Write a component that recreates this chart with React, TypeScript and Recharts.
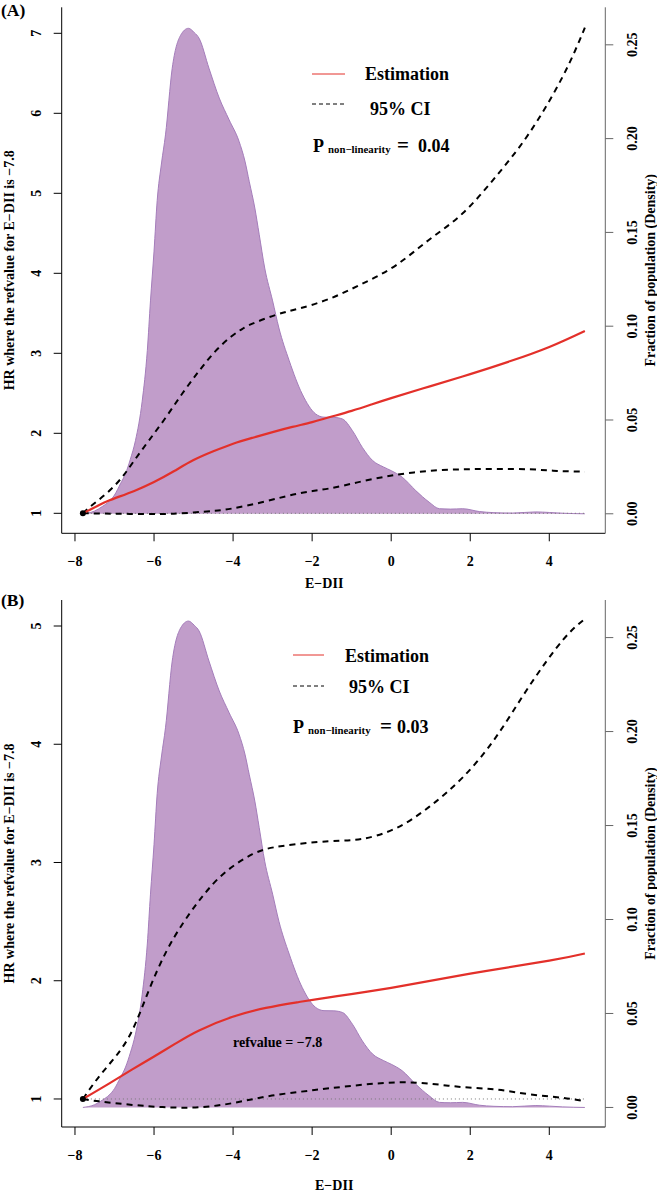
import React from "react";
import { ComposedChart, Line, Area, XAxis, YAxis, ReferenceDot } from "recharts";

const FONT = "'Liberation Serif', 'Times New Roman', Times, serif";

// ---- data (E-DII, value) ----
const xTicks = [-8, -6, -4, -2, 0, 2, 4];
const hrTicksA = [1, 2, 3, 4, 5, 6, 7];
const hrTicksB = [1, 2, 3, 4, 5];
const densityTicks = [0, 0.05, 0.1, 0.15, 0.2, 0.25];

const refPoint = { x: -7.8, y: 1 };
const baselineHR: [number, number][] = [[-7.8, 1], [4.9, 1]];

const density: [number, number][] = [
  [-7.8, 0], [-7.5, 0.0015], [-7.3, 0.004], [-7.14, 0.0065], [-7.0, 0.01], [-6.85, 0.016],
  [-6.72, 0.0215], [-6.6, 0.029], [-6.47, 0.039], [-6.3, 0.06], [-6.17, 0.087], [-6.09, 0.1135],
  [-6.0, 0.14], [-5.92, 0.167], [-5.81, 0.187], [-5.71, 0.202], [-5.54, 0.2375], [-5.33, 0.255],
  [-5.13, 0.2588], [-4.98, 0.2565], [-4.86, 0.2535], [-4.61, 0.2375], [-4.35, 0.2216], [-4.1, 0.21],
  [-3.85, 0.1986], [-3.7, 0.188], [-3.59, 0.177], [-3.45, 0.163], [-3.34, 0.149], [-3.2, 0.131],
  [-3.0, 0.1135], [-2.84, 0.099], [-2.58, 0.0816], [-2.25, 0.0638], [-1.91, 0.0532], [-1.7, 0.0515],
  [-1.45, 0.0514], [-1.23, 0.0505], [-0.98, 0.0443], [-0.73, 0.0354], [-0.47, 0.0284], [-0.2, 0.025],
  [0.0, 0.023], [0.28, 0.0195], [0.62, 0.0124], [0.96, 0.0062], [1.22, 0.0027], [1.5, 0.0025],
  [1.81, 0.0027], [2.23, 0.0012], [2.6, 0.0006], [3.07, 0.0004], [3.66, 0.001], [4.0, 0.0007],
  [4.34, 0.0003], [4.9, 0],
];

const estimationA: [number, number][] = [
  [-7.8, 1.0], [-7.4, 1.1], [-7.14, 1.16], [-6.5, 1.28], [-6.0, 1.39], [-5.5, 1.525], [-5.0, 1.665],
  [-4.5, 1.775], [-4.0, 1.87], [-3.5, 1.945], [-3.0, 2.015], [-2.5, 2.08], [-2.0, 2.14], [-1.57, 2.2],
  [-1.0, 2.28], [-0.5, 2.36], [0.0, 2.44], [1.0, 2.59], [2.0, 2.74], [3.0, 2.9], [4.0, 3.08], [4.9, 3.28],
];
const upperA: [number, number][] = [
  [-7.8, 1.0], [-7.62, 1.08], [-7.2, 1.25], [-6.81, 1.45], [-6.5, 1.66], [-6.13, 1.91], [-5.7, 2.2],
  [-5.28, 2.5], [-4.86, 2.78], [-4.44, 3.03], [-4.02, 3.22], [-3.75, 3.31], [-3.51, 3.37], [-2.92, 3.48],
  [-2.33, 3.56], [-1.57, 3.68], [-0.73, 3.87], [0.12, 4.1], [0.96, 4.42], [1.81, 4.75], [2.65, 5.21],
  [3.49, 5.75], [4.34, 6.46], [4.9, 7.07],
];
const lowerA: [number, number][] = [
  [-7.8, 1.0], [-7.0, 0.995], [-6.0, 0.99], [-5.5, 0.995], [-5.0, 1.01], [-4.5, 1.03], [-4.02, 1.06],
  [-3.17, 1.15], [-2.33, 1.25], [-1.57, 1.31], [-0.73, 1.4], [0.12, 1.48], [0.96, 1.53], [1.81, 1.55],
  [2.65, 1.555], [3.49, 1.55], [4.2, 1.53], [4.9, 1.52],
];

const estimationB: [number, number][] = [
  [-7.8, 1.0], [-7.14, 1.13], [-6.55, 1.25], [-6.02, 1.355], [-5.45, 1.47], [-4.86, 1.58], [-4.01, 1.695],
  [-3.17, 1.77], [-2.33, 1.82], [-1.57, 1.86], [0.0, 1.94], [2.0, 2.06], [4.0, 2.17], [4.9, 2.23],
];
const upperB: [number, number][] = [
  [-7.8, 1.0], [-7.39, 1.19], [-6.97, 1.36], [-6.55, 1.58], [-6.13, 1.92], [-5.7, 2.24], [-5.28, 2.48],
  [-4.9, 2.66], [-4.61, 2.78], [-4.19, 2.92], [-3.51, 3.07], [-2.75, 3.14], [-1.57, 3.18], [-0.73, 3.2],
  [0.12, 3.29], [0.96, 3.47], [1.81, 3.72], [2.65, 4.06], [3.49, 4.49], [4.34, 4.88], [4.9, 5.06],
];
const lowerB: [number, number][] = [
  [-7.8, 1.0], [-7.39, 0.98], [-6.55, 0.95], [-5.7, 0.93], [-4.86, 0.93], [-4.01, 0.965], [-3.17, 1.02],
  [-2.33, 1.06], [-1.57, 1.09], [-0.73, 1.12], [0.12, 1.14], [0.96, 1.13], [1.81, 1.1], [2.65, 1.08],
  [3.49, 1.04], [4.34, 1.01], [4.9, 0.98],
];

const rows = (pts: [number, number][]) => pts.map(([x, y]) => ({ x, y }));
const fmtX = (v: number) => (v < 0 ? "\u2212" + Math.abs(v) : String(v));

const X_DOMAIN: [number, number] = [-8.336, 5.417];
const DEN_DOMAIN: [number, number] = [-0.0104, 0.27];

const LeftTick = (props: any) => {
  const { x, y, payload } = props;
  return (
    <text x={x} y={y} transform={`rotate(-90 ${x} ${y})`} textAnchor="middle" fontFamily={FONT} fontWeight="bold" fontSize={14} fill="#000">
      {payload.value}
    </text>
  );
};
const RightTick = (props: any) => {
  const { x, y, payload } = props;
  return (
    <text x={x} y={y} transform={`rotate(-90 ${x} ${y})`} textAnchor="middle" fontFamily={FONT} fontWeight="bold" fontSize={14} fill="#000">
      {Number(payload.value).toFixed(2)}
    </text>
  );
};
const BottomTick = (props: any) => {
  const { x, y, payload } = props;
  return (
    <text x={x} y={y} dy="0.71em" textAnchor="middle" fontFamily={FONT} fontWeight="bold" fontSize={14} fill="#000">
      {fmtX(payload.value)}
    </text>
  );
};

type PanelProps = {
  tag: string;
  height: number;
  marginTop: number;
  marginBottom: number;
  hrDomain: [number, number];
  hrTicks: number[];
  est: [number, number][];
  upper: [number, number][];
  lower: [number, number][];
  pValue: string;
  layout: any;
  showRef?: boolean;
};

const txt = { fontFamily: FONT, fontWeight: "bold" as const, fill: "#000" };

function Panel(p: PanelProps) {
  const L = p.layout;
  const plotTop = p.marginTop;
  const plotBottom = p.height - p.marginBottom - 40;
  const midY = (plotTop + plotBottom) / 2;
  return (
    <div style={{ position: "relative", width: 657, height: p.height }}>
      <ComposedChart width={657} height={p.height} margin={{ top: p.marginTop, right: 11.7, bottom: p.marginBottom, left: 21.7 }}>
        <XAxis
          xAxisId="b"
          dataKey="x"
          type="number"
          domain={X_DOMAIN}
          ticks={xTicks}
          interval={0}
          allowDataOverflow
          height={40}
          tickSize={8}
          tickMargin={15}
          tick={<BottomTick />}
          axisLine={{ stroke: "#000" }}
          tickLine={{ stroke: "#000" }}
        />
        <XAxis xAxisId="t" orientation="top" type="number" dataKey="x" domain={X_DOMAIN} allowDataOverflow height={0} tick={false} tickLine={false} axisLine={{ stroke: "#000" }} />
        <YAxis
          yAxisId="hr"
          orientation="left"
          type="number"
          domain={p.hrDomain}
          ticks={p.hrTicks}
          interval={0}
          allowDataOverflow
          width={40}
          tickSize={8}
          tickMargin={13}
          tick={<LeftTick />}
          axisLine={{ stroke: "#000" }}
          tickLine={{ stroke: "#000" }}
        />
        <YAxis
          yAxisId="den"
          orientation="right"
          type="number"
          domain={DEN_DOMAIN}
          ticks={densityTicks}
          interval={0}
          allowDataOverflow
          width={40}
          tickSize={8}
          tickMargin={24}
          tick={<RightTick />}
          axisLine={{ stroke: "#666" }}
          tickLine={{ stroke: "#666" }}
        />
        <Area
          data={rows(density)}
          dataKey="y"
          xAxisId="b"
          yAxisId="den"
          type="monotone"
          fill="#C19DCA"
          fillOpacity={1}
          stroke="#A47DBA"
          strokeWidth={1}
          isAnimationActive={false}
        />
        <Line data={rows(baselineHR)} dataKey="y" xAxisId="b" yAxisId="hr" stroke="#777" strokeWidth={1} strokeDasharray="1 3" dot={false} isAnimationActive={false} />
        <Line data={rows(p.upper)} dataKey="y" xAxisId="b" yAxisId="hr" type="natural" stroke="#000" strokeWidth={2} strokeDasharray="6 5" dot={false} isAnimationActive={false} />
        <Line data={rows(p.lower)} dataKey="y" xAxisId="b" yAxisId="hr" type="natural" stroke="#000" strokeWidth={2} strokeDasharray="6 5" dot={false} isAnimationActive={false} />
        <Line data={rows(p.est)} dataKey="y" xAxisId="b" yAxisId="hr" type="natural" stroke="#E3302A" strokeWidth={2.2} dot={false} isAnimationActive={false} />
        <ReferenceDot xAxisId="b" yAxisId="hr" x={refPoint.x} y={refPoint.y} r={3} fill="#000" stroke="none" />
      </ComposedChart>
      <svg width={657} height={p.height} style={{ position: "absolute", left: 0, top: 0, pointerEvents: "none" }}>
        <text x={1} y={L.tagY} fontSize={17.5} {...txt}>{p.tag}</text>
        <text x={14} y={midY} transform={`rotate(-90 14 ${midY})`} textAnchor="middle" fontSize={14} {...txt}>
          HR where the refvalue for E{"\u2212"}DII is {"\u2212"}7.8
        </text>
        <text x={655} y={midY} transform={`rotate(-90 655 ${midY})`} textAnchor="middle" fontSize={14} {...txt}>
          Fraction of population (Density)
        </text>
        <text x={L.xTitleX} y={L.xTitleY} fontSize={14} {...txt}>E{"\u2212"}DII</text>
        <line x1={L.legX1} x2={L.legX2} y1={L.redY} y2={L.redY} stroke="#E3302A" strokeWidth={1} />
        <line x1={L.legX1} x2={L.legX2} y1={L.dashY} y2={L.dashY} stroke="#000" strokeWidth={1} strokeDasharray="4 3" />
        <text x={L.estX} y={L.estBase} fontSize={18} {...txt}>Estimation</text>
        <text x={L.ciX} y={L.ciBase} fontSize={18} {...txt}>95% CI</text>
        <text x={L.pX} y={L.pBase} fontSize={18} {...txt}>P</text>
        <text x={L.subX} y={L.pBase + 1} fontSize={10.8} {...txt}>non{"\u2212"}linearity</text>
        <text x={L.eqX} y={L.pBase} fontSize={21} {...txt}>=</text>
        <text x={L.valX} y={L.pBase} fontSize={18} {...txt}>{p.pValue}</text>
        {p.showRef ? (
          <text x={233} y={L.refBase} fontSize={14} {...txt}>refvalue = {"\u2212"}7.8</text>
        ) : null}
      </svg>
    </div>
  );
}

const layoutA = {
  tagY: 16,
  xTitleX: 305,
  xTitleY: 588,
  legX1: 312,
  legX2: 345,
  redY: 74,
  dashY: 104,
  estX: 365,
  estBase: 79.5,
  ciX: 370,
  ciBase: 115,
  pX: 313,
  subX: 328,
  eqX: 397,
  valX: 418,
  pBase: 152,
};
const layoutB = {
  tagY: 16,
  xTitleX: 315,
  xTitleY: 600,
  legX1: 293,
  legX2: 324,
  redY: 65,
  dashY: 96,
  estX: 345,
  estBase: 71.5,
  ciX: 349,
  ciBase: 103,
  pX: 293,
  subX: 308,
  eqX: 380,
  valX: 397,
  pBase: 143,
  refBase: 456.5,
};

export default function App() {
  return (
    <div style={{ position: "absolute", left: 0, top: 0, width: 657, height: 1193, background: "#fff" }}>
      <div style={{ position: "absolute", left: 0, top: 0 }}>
        <Panel
          tag="(A)"
          height={590}
          marginTop={7.3}
          marginBottom={16.7}
          hrDomain={[0.75, 7.325]}
          hrTicks={hrTicksA}
          est={estimationA}
          upper={upperA}
          lower={lowerA}
          pValue="0.04"
          layout={layoutA}
        />
      </div>
      <div style={{ position: "absolute", left: 0, top: 590 }}>
        <Panel
          tag="(B)"
          height={603}
          marginTop={10}
          marginBottom={26}
          hrDomain={[0.763, 5.22]}
          hrTicks={hrTicksB}
          est={estimationB}
          upper={upperB}
          lower={lowerB}
          pValue="0.03"
          layout={layoutB}
          showRef
        />
      </div>
    </div>
  );
}
